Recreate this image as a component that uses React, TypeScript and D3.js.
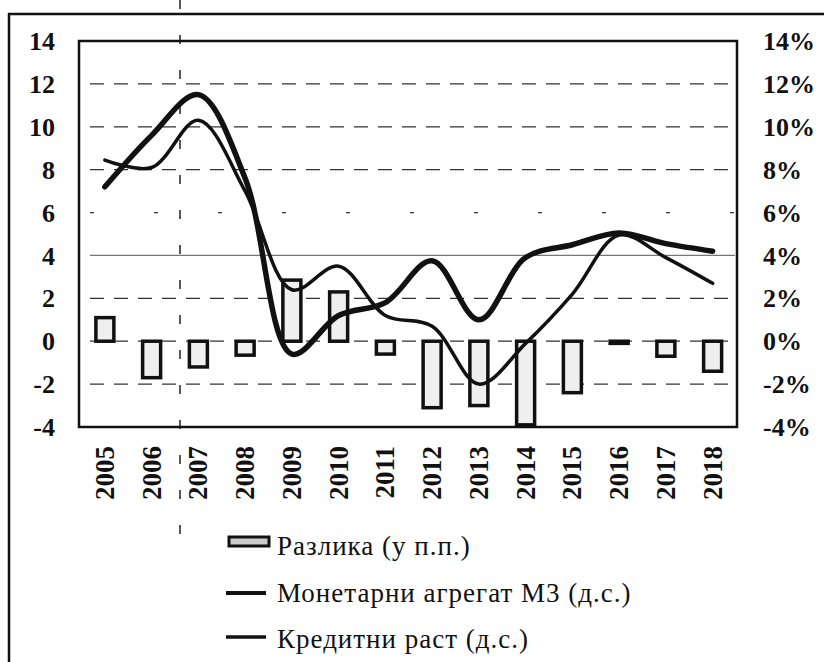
import { useEffect, useRef } from 'react'
import * as d3 from 'd3'

const years = ['2005', '2006', '2007', '2008', '2009', '2010', '2011', '2012', '2013', '2014', '2015', '2016', '2017', '2018']
// Разлика (у п.п.), left axis
const razlika = [1.1, -1.7, -1.2, -0.65, 2.85, 2.3, -0.6, -3.1, -3.0, -3.9, -2.4, -0.1, -0.7, -1.4]
// Монетарни агрегат М3 (д.с.), right axis, %
const monetarniM3 = [7.2, 9.6, 11.5, 7.6, -0.6, 1.2, 1.8, 3.75, 1.0, 3.9, 4.5, 5.05, 4.55, 4.2]
// Кредитни раст (д.с.), right axis, %
const kreditniRast = [8.45, 8.1, 10.3, 7.0, 2.4, 3.5, 1.2, 0.7, -2.0, -0.1, 2.2, 4.95, 3.9, 2.7]

const leftTicks = [-4, -2, 0, 2, 4, 6, 8, 10, 12, 14]
const rightTicks = [-4, -2, 0, 2, 4, 6, 8, 10, 12, 14]
const legendLabels = ['Разлика (у п.п.)', 'Монетарни агрегат М3 (д.с.)', 'Кредитни раст (д.с.)']

const Chart = () => {
    const ref = useRef<SVGSVGElement | null>(null)

    useEffect(() => {
        if (!ref.current) return
        const width = 824
        const height = 662
        const plot = { left: 79, right: 737, top: 41, bottom: 427 }
        const font = '"Liberation Serif", "Times New Roman", serif'

        const svg = d3.select(ref.current)
        svg.selectAll('*').remove()
        svg.attr('width', width).attr('height', height)

        const x = d3.scaleBand().domain(years).range([81.5, 736]).padding(0)
        const yL = d3.scaleLinear().domain([-4, 14]).range([plot.bottom, plot.top])
        const yR = d3.scaleLinear().domain([-4, 14]).range([plot.bottom, plot.top])
        const cx = (d: string) => x(d)! + x.bandwidth() / 2

        // outer frame (runs off the page on the right and bottom)
        svg.append('rect')
            .attr('x', 9).attr('y', 14)
            .attr('width', 900).attr('height', 800)
            .attr('fill', 'none').attr('stroke', '#111').attr('stroke-width', 2.5)

        // scan artefact line
        svg.append('line')
            .attr('x1', 180).attr('x2', 180).attr('y1', 0).attr('y2', 560)
            .attr('stroke', '#222').attr('stroke-width', 1.5)
            .attr('stroke-dasharray', '9 26')

        // gridlines
        svg.append('g')
            .selectAll('line')
            .data(leftTicks.filter(t => t > -4 && t < 14))
            .join('line')
            .attr('x1', 90).attr('x2', 735)
            .attr('y1', d => yL(d)).attr('y2', d => yL(d))
            .attr('stroke', d => (d === 4 ? '#777' : '#333'))
            .attr('stroke-width', 1.3)
            .attr('stroke-dasharray', d => (d === 4 ? null : d === 6 ? '4 60' : '14 10'))

        // bars
        svg.append('g')
            .selectAll('rect')
            .data(razlika)
            .join('rect')
            .attr('x', (_, i) => cx(years[i]) - 9)
            .attr('width', 18)
            .attr('y', d => yL(Math.max(0, d)))
            .attr('height', d => Math.max(2, Math.abs(yL(d) - yL(0))))
            .attr('fill', '#efefef')
            .attr('stroke', '#111')
            .attr('stroke-width', 3.5)

        const line = (vals: number[]) =>
            d3.line<number>()
                .x((_, i) => cx(years[i]))
                .y(d => yR(d))
                .curve(d3.curveCatmullRom.alpha(0.5))(vals)

        svg.append('path')
            .attr('d', line(kreditniRast))
            .attr('fill', 'none').attr('stroke', '#111').attr('stroke-width', 3.5)
            .attr('stroke-linecap', 'round')
        svg.append('path')
            .attr('d', line(monetarniM3))
            .attr('fill', 'none').attr('stroke', '#111').attr('stroke-width', 5.5)
            .attr('stroke-linecap', 'round')

        // plot border
        svg.append('rect')
            .attr('x', plot.left).attr('y', plot.top)
            .attr('width', plot.right - plot.left).attr('height', plot.bottom - plot.top)
            .attr('fill', 'none').attr('stroke', '#111').attr('stroke-width', 2.5)

        // left axis
        const gl = svg.append('g')
            .attr('transform', 'translate(55,0)')
            .call(d3.axisLeft(yL).tickValues(leftTicks).tickSize(0).tickPadding(0).tickFormat(d => String(d)))
        gl.select('.domain').remove()
        gl.selectAll('text')
            .attr('dy', '0.33em')
            .attr('font-family', font).attr('font-size', 26).attr('font-weight', 'bold')
            .attr('fill', '#111')

        // right axis
        const gr = svg.append('g')
            .attr('transform', 'translate(763,0)')
            .call(d3.axisRight(yR).tickValues(rightTicks).tickSize(0).tickPadding(0).tickFormat(d => `${d}%`))
        gr.select('.domain').remove()
        gr.selectAll('text')
            .attr('dy', '0.33em')
            .attr('font-family', font).attr('font-size', 26).attr('font-weight', 'bold')
            .attr('fill', '#111')

        // x axis labels
        const gx = svg.append('g')
            .attr('transform', 'translate(0,446)')
            .call(d3.axisBottom(x).tickSize(0).tickPadding(0))
        gx.select('.domain').remove()
        gx.selectAll('text')
            .attr('transform', 'rotate(-90)')
            .attr('text-anchor', 'end')
            .attr('x', 0).attr('y', 0).attr('dy', '0.33em')
            .attr('font-family', font).attr('font-size', 27).attr('font-weight', 'bold')
            .attr('fill', '#111')

        // legend
        const lg = svg.append('g')
        lg.append('rect')
            .attr('x', 229).attr('y', 537).attr('width', 40).attr('height', 9)
            .attr('fill', '#ccc').attr('stroke', '#111').attr('stroke-width', 3)
        ;[593, 637].forEach((ly, i) => {
            lg.append('line')
                .attr('x1', 226).attr('x2', 266).attr('y1', ly).attr('y2', ly)
                .attr('stroke', '#111').attr('stroke-width', i === 0 ? 4 : 3.5)
        })
        lg.selectAll('text')
            .data(legendLabels)
            .join('text')
            .attr('x', 277)
            .attr('y', (_, i) => 555 + i * 46.5)
            .attr('font-family', font).attr('font-size', 27)
            .attr('letter-spacing', 1)
            .attr('fill', '#111')
            .text(d => d)
    }, [])

    return <svg ref={ref} style={{ position: 'absolute', left: 0, top: 0, background: '#fff' }}></svg>
}

export default function App() {
    return (
        <div>
            <Chart />
        </div>
    )
}
